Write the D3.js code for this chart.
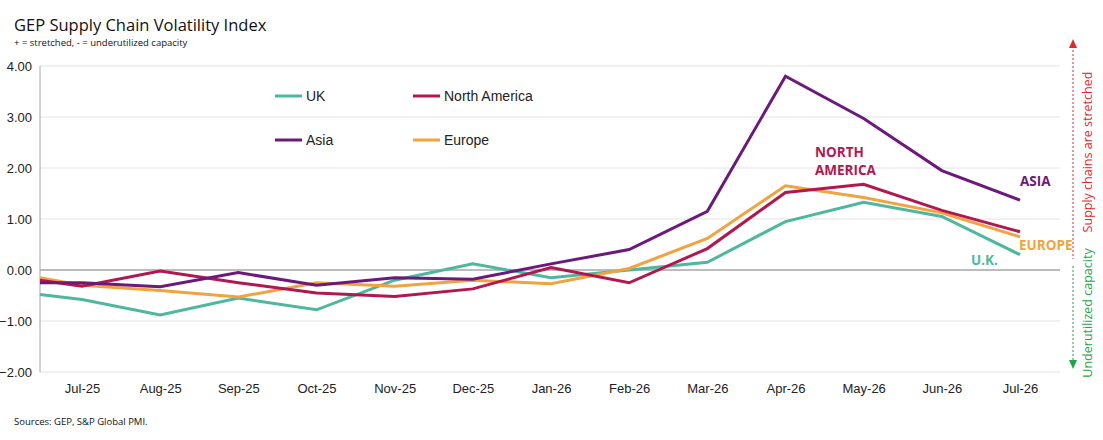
<!DOCTYPE html>
<html><head><meta charset="utf-8">
<script src="https://cdn.jsdelivr.net/npm/d3@7"></script>
<style>body{margin:0;background:#fff;font-family:"Liberation Sans",Arial,sans-serif}</style>
</head><body><svg id="c"></svg>
<script>
const months=["Jul-25","Aug-25","Sep-25","Oct-25","Nov-25","Dec-25","Jan-26","Feb-26","Mar-26","Apr-26","May-26","Jun-26","Jul-26"]
// first value of each series sits on the left axis edge (prior month)
const uk=[-0.48,-0.58,-0.88,-0.55,-0.78,-0.2,0.12,-0.15,0.0,0.15,0.95,1.33,1.05,0.3]
const northAmerica=[-0.2,-0.32,-0.02,-0.25,-0.45,-0.52,-0.37,0.05,-0.25,0.42,1.52,1.68,1.17,0.75]
const asia=[-0.25,-0.25,-0.33,-0.05,-0.3,-0.15,-0.18,0.12,0.4,1.15,3.8,2.97,1.95,1.37]
const europe=[-0.15,-0.3,-0.4,-0.53,-0.25,-0.32,-0.2,-0.27,0.03,0.62,1.65,1.42,1.12,0.65]
const yTicks=[-2,-1,0,1,2,3,4]

const w=1103,h=440
const svg=d3.select('#c').attr('width',w).attr('height',h)
const left=40,right=1060
const x=d3.scalePoint().domain(months).range([82,1020])
const y=d3.scaleLinear().domain([-2,4]).range([372,66])

svg.append('g').selectAll('line').data(yTicks).join('line')
  .attr('x1',left).attr('x2',right).attr('y1',y).attr('y2',y)
  .attr('stroke',d=>d===0?'#a6a6a6':'#e3e3e3').attr('stroke-width',d=>d===0?1.5:1)
svg.append('line').attr('x1',left).attr('x2',left).attr('y1',y(4)).attr('y2',y(-2)).attr('stroke','#a6a6a6')

const yAxis=d3.axisLeft(y).tickValues(yTicks).tickFormat(d3.format('.2f')).tickSize(0).tickPadding(8)
svg.append('g').attr('transform',`translate(${left},0)`).call(yAxis)
  .call(g=>g.select('.domain').remove())
  .selectAll('text').attr('font-size',13).attr('fill','#222').attr('font-family','"Liberation Sans",Arial')
const xAxis=d3.axisBottom(x).tickSize(0).tickPadding(12)
svg.append('g').attr('transform',`translate(0,${y(-2)})`).call(xAxis)
  .call(g=>g.select('.domain').remove())
  .selectAll('text').attr('font-size',13).attr('fill','#222').attr('font-family','"Liberation Sans",Arial')

const series=[
  {name:'UK',vals:uk,color:'#4db89e'},
  {name:'Europe',vals:europe,color:'#f0a33e'},
  {name:'North America',vals:northAmerica,color:'#b3174f'},
  {name:'Asia',vals:asia,color:'#6b1a7b'}
]
const px=i=>i===0?left:x(months[i-1])
const line=d3.line().x((d,i)=>px(i)).y(d=>y(d))
svg.selectAll('.s').data(series).join('path')
  .attr('d',d=>line(d.vals)).attr('fill','none').attr('stroke',d=>d.color).attr('stroke-width',3)

const legend=[{n:'UK',c:'#4db89e',x:275,y:96},{n:'North America',c:'#b3174f',x:413,y:96},
  {n:'Asia',c:'#6b1a7b',x:275,y:140},{n:'Europe',c:'#f0a33e',x:413,y:140}]
const lg=svg.append('g').selectAll('g').data(legend).join('g')
lg.append('line').attr('x1',d=>d.x).attr('x2',d=>d.x+27).attr('y1',d=>d.y).attr('y2',d=>d.y).attr('stroke',d=>d.c).attr('stroke-width',3)
lg.append('text').attr('x',d=>d.x+31).attr('y',d=>d.y+5).attr('font-size',14).attr('fill','#222').text(d=>d.n)

const lab=(t,xx,yy,c)=>svg.append('text').attr('x',xx).attr('y',yy).attr('fill',c).attr('font-size',13.5)
  .attr('font-weight','bold').attr('font-family','"Open Sans",sans-serif').text(t)
lab('NORTH',815,157,'#b3174f');lab('AMERICA',815,175,'#b3174f')
lab('ASIA',1020,186,'#6b1a7b');lab('EUROPE',1019,250,'#f0a33e');lab('U.K.',971,265,'#4db89e')

svg.append('text').attr('x',14).attr('y',31).attr('font-size',16.5).attr('fill','#111').attr('font-family','"Open Sans",sans-serif').text('GEP Supply Chain Volatility Index')
svg.append('text').attr('x',14).attr('y',46).attr('font-size',9.5).attr('fill','#111').attr('font-family','"Open Sans",sans-serif').text('+ = stretched, - = underutilized capacity')
svg.append('text').attr('x',14).attr('y',425).attr('font-size',9.5).attr('fill','#111').attr('font-family','"Open Sans",sans-serif').text('Sources: GEP, S&P Global PMI.')

// side arrows
const ax=1073
svg.append('line').attr('x1',ax).attr('x2',ax).attr('y1',46).attr('y2',259).attr('stroke','#e8262a').attr('stroke-dasharray','2,2')
svg.append('path').attr('d',`M${ax-4},48L${ax},39L${ax+4},48Z`).attr('fill','#e8262a')
svg.append('line').attr('x1',ax).attr('x2',ax).attr('y1',266).attr('y2',362).attr('stroke','#1fa64a').attr('stroke-dasharray','2,2')
svg.append('path').attr('d',`M${ax-4},360L${ax},369L${ax+4},360Z`).attr('fill','#1fa64a')
svg.append('text').attr('transform','translate(1092,152) rotate(-90)').attr('text-anchor','middle').attr('font-size',12.5)
  .attr('fill','#e8262a').attr('font-family','"Open Sans",sans-serif').text('Supply chains are stretched')
svg.append('text').attr('transform','translate(1092,313) rotate(-90)').attr('text-anchor','middle').attr('font-size',12.5)
  .attr('fill','#1fa64a').attr('font-family','"Open Sans",sans-serif').text('Underutilized capacity')
</script></body></html>
